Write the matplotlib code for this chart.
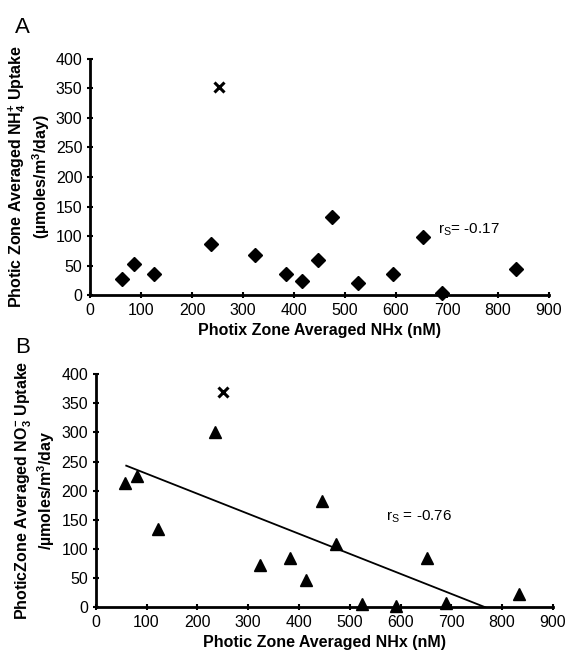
import matplotlib
matplotlib.use("Agg")
import matplotlib.pyplot as plt

plt.rcParams['font.family'] = ['Liberation Sans', 'DejaVu Sans']
plt.rcParams['mathtext.fontset'] = 'custom'
plt.rcParams['mathtext.rm'] = 'Liberation Sans'
plt.rcParams['mathtext.it'] = 'Liberation Sans'
plt.rcParams['mathtext.bf'] = 'Liberation Sans:bold'

# Panel A: NH4+ uptake vs NHx
nhx_a = [62, 86, 125, 237, 324, 384, 416, 447, 474, 526, 595, 654, 691, 835]
nh4_uptake = [28, 53, 36, 86, 68, 35, 24, 59, 133, 21, 35, 99, 3, 45]
outlier_a = ([253], [352])

# Panel B: NO3- uptake vs NHx
nhx_b = [58, 81, 122, 235, 323, 382, 414, 445, 472, 524, 592, 652, 690, 834]
no3_uptake = [214, 226, 134, 300, 73, 84, 46, 183, 108, 5, 3, 84, 8, 23]
outlier_b = ([251], [370])
fit_x = [60, 767]
fit_y = [243, 0]

xticks = [0, 100, 200, 300, 400, 500, 600, 700, 800, 900]
yticks = [0, 50, 100, 150, 200, 250, 300, 350, 400]

fig = plt.figure(figsize=(5.7, 6.53), dpi=100)
ax1 = fig.add_axes([0.158, 0.548, 0.805, 0.362])
ax2 = fig.add_axes([0.168, 0.070, 0.802, 0.357])


def style_axes(ax):
    ax.set_xlim(0, 900)
    ax.set_ylim(0, 400)
    ax.set_xticks(xticks)
    ax.set_yticks(yticks)
    for s in ['top', 'right']:
        ax.spines[s].set_visible(False)
    for s in ['left', 'bottom']:
        ax.spines[s].set_linewidth(2)
    ax.tick_params(direction='inout', length=5, width=1.5, labelsize=11.5, pad=3)


style_axes(ax1)
ax1.plot(nhx_a, nh4_uptake, 'D', color='black', markersize=7, clip_on=False)
ax1.plot(*outlier_a, 'x', color='black', markersize=7, mew=2.2)
ax1.text(682, 110, r'r$_\mathrm{S}$= -0.17', fontsize=11, va='center')
ax1.set_xlabel('Photix Zone Averaged NHx (nM)', fontsize=11.5, fontweight='bold', labelpad=4)
ax1.set_ylabel('Photic Zone Averaged NH$_\\mathbf{4}^\\mathbf{+}$ Uptake\n(µmoles/m$^\\mathbf{3}$/day)',
               fontsize=11.5, fontweight='bold', labelpad=3, linespacing=1.1)

style_axes(ax2)
ax2.plot(fit_x, fit_y, color='black', lw=1.3)
ax2.plot(nhx_b, no3_uptake, '^', color='black', markersize=8, clip_on=False)
ax2.plot(*outlier_b, 'x', color='black', markersize=7, mew=2.2)
ax2.text(572, 155, r'r$_\mathrm{S}$ = -0.76', fontsize=11, va='center')
ax2.set_xlabel('Photic Zone Averaged NHx (nM)', fontsize=11.5, fontweight='bold', labelpad=4)
ax2.set_ylabel('PhoticZone Averaged NO$_\\mathbf{3}^\\mathbf{-}$ Uptake\n/µmoles/m$^\\mathbf{3}$/day',
               fontsize=11.5, fontweight='bold', labelpad=3, linespacing=1.1)

fig.text(0.026, 0.958, 'A', fontsize=16, va='center')
fig.text(0.026, 0.468, 'B', fontsize=16, va='center')

fig.savefig('out.png', dpi=100)
